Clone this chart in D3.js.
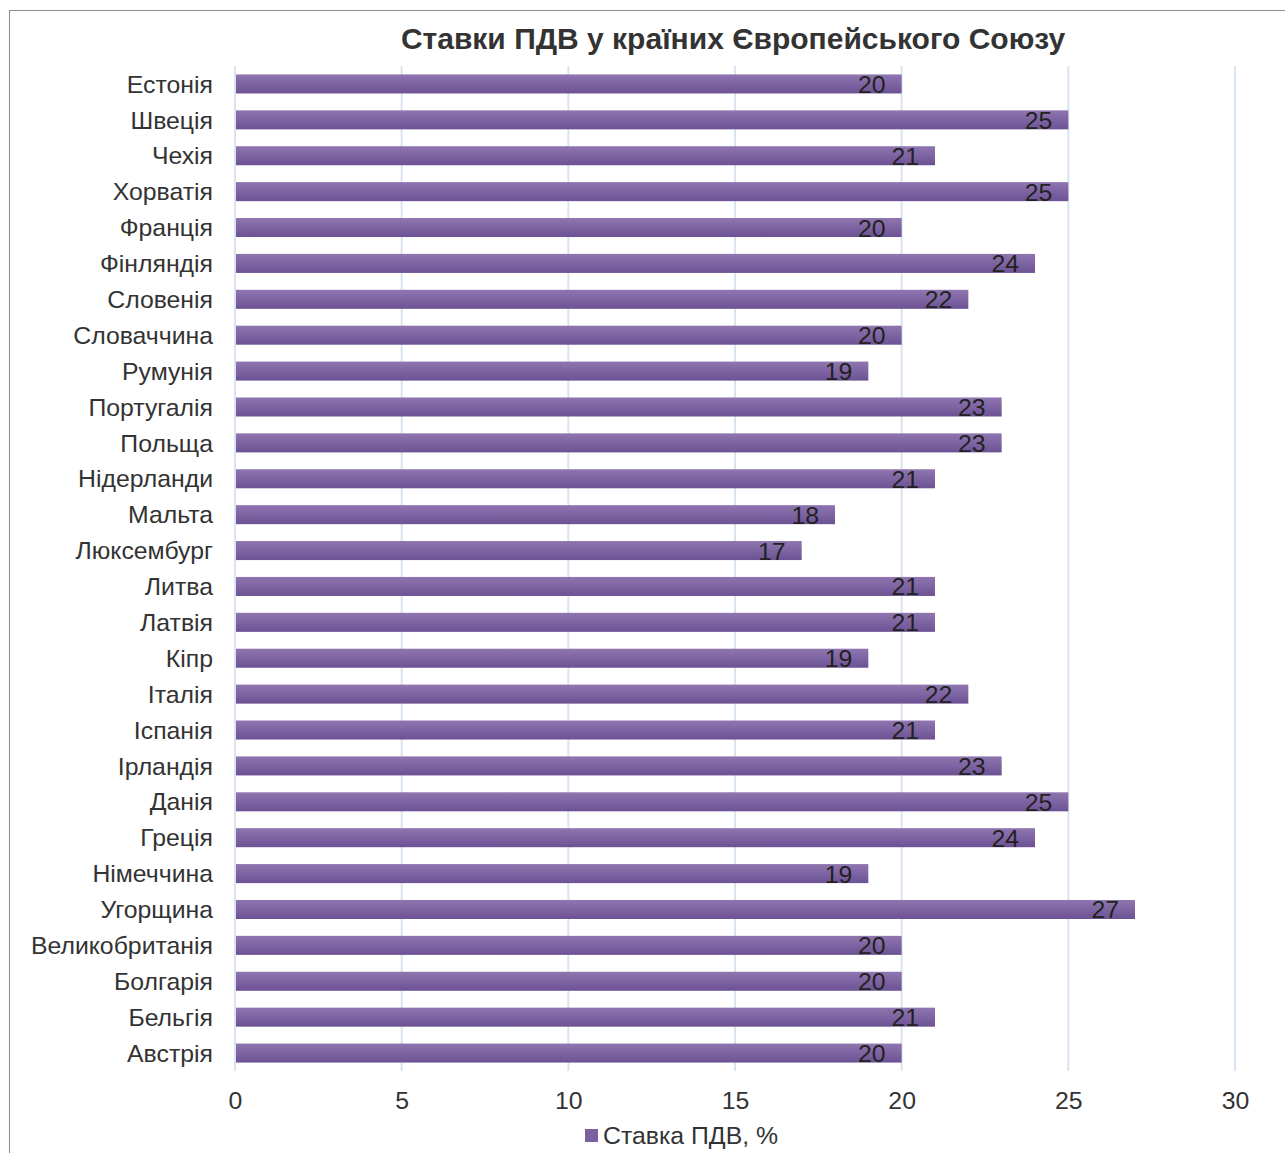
<!DOCTYPE html>
<html><head><meta charset="utf-8">
<script src="https://cdn.jsdelivr.net/npm/d3@7"></script>
<style>body{margin:0;background:#fff;} svg{display:block;font-family:"Liberation Sans",Arial,sans-serif;}</style>
</head><body>
<script>
const countries = ["Естонія","Швеція","Чехія","Хорватія","Франція","Фінляндія","Словенія","Словаччина","Румунія","Португалія","Польща","Нідерланди","Мальта","Люксембург","Литва","Латвія","Кіпр","Італія","Іспанія","Ірландія","Данія","Греція","Німеччина","Угорщина","Великобританія","Болгарія","Бельгія","Австрія"];
const rates = [20,25,21,25,20,24,22,20,19,23,23,21,18,17,21,21,19,22,21,23,25,24,19,27,20,20,21,20];
const xTicks = [0,5,10,15,20,25,30];
const title = "Ставки ПДВ у країних Європейського Союзу";
const seriesName = "Ставка ПДВ, %";

const W = 1285, H = 1153;
const FONT = "Liberation Sans, Arial, sans-serif";
const FS = 24.8;
const svg = d3.select("body").append("svg").attr("width", W).attr("height", H);
const defs = svg.append("defs");
const grad = defs.append("linearGradient").attr("id","barGrad").attr("x1",0).attr("y1",0).attr("x2",0).attr("y2",1);
grad.append("stop").attr("offset","0%").attr("stop-color","#8f76b0");
grad.append("stop").attr("offset","100%").attr("stop-color","#6c5294");

svg.append("rect").attr("x",9.5).attr("y",10.5).attr("width",1300).attr("height",1200)
  .attr("fill","#fff").attr("stroke","#8c8c8c").attr("stroke-width",1);

const x = d3.scaleLinear().domain([0,30]).range([235,1235]);
const y = d3.scaleBand().domain(countries).range([66,1071]).paddingInner(0.47).paddingOuter(0.235);

// grid
svg.append("g").selectAll("line").data(xTicks).join("line")
  .attr("x1",d=>x(d)).attr("x2",d=>x(d)).attr("y1",66).attr("y2",1071)
  .attr("stroke","#d9e4f1").attr("stroke-width",2);

// bars
svg.append("g").selectAll("rect").data(countries).join("rect")
  .attr("x",x(0)+1).attr("y",d=>y(d)).attr("height",y.bandwidth())
  .attr("width",(d,i)=>x(rates[i])-x(0)-1).attr("fill","url(#barGrad)");

// value labels
svg.append("g").selectAll("text").data(countries).join("text")
  .attr("x",(d,i)=>x(rates[i])-16).attr("y",d=>y(d)+y.bandwidth()/2+9)
  .attr("text-anchor","end").attr("font-size",FS).attr("fill","#222")
  .text((d,i)=>rates[i]);

// category labels
const yAxis = d3.axisLeft(y).tickSize(0).tickPadding(0);
const gy = svg.append("g").attr("transform","translate(213,0)").call(yAxis);
gy.select(".domain").remove();
gy.selectAll("text").attr("font-size",FS).attr("fill","#333").attr("font-family",FONT).attr("dy","0.35em");

// x axis labels
const xAxis = d3.axisBottom(x).tickValues(xTicks).tickSize(0).tickPadding(0);
const gx = svg.append("g").attr("transform","translate(0,1091)").call(xAxis);
gx.select(".domain").remove();
gx.selectAll("text").attr("font-size",FS).attr("fill","#333").attr("font-family",FONT).attr("dy","0.71em");

// title
svg.append("text").attr("x",733).attr("y",49).attr("text-anchor","middle")
  .attr("font-size",30).attr("font-weight","bold").attr("fill","#333").text(title);

// legend
svg.append("rect").attr("x",585).attr("y",1129).attr("width",13).attr("height",13).attr("fill","#7b60a0");
svg.append("text").attr("x",603).attr("y",1144).attr("font-size",FS).attr("fill","#333").text(seriesName);
</script>
</body></html>
